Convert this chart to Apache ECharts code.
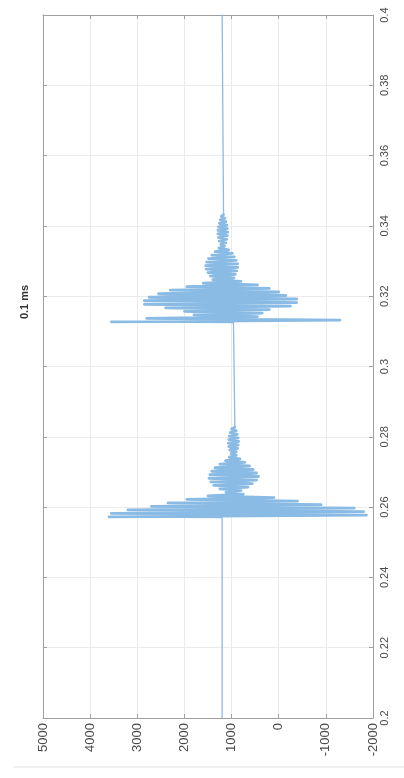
<!DOCTYPE html>
<html>
<head>
<meta charset="utf-8">
<script src="https://cdn.jsdelivr.net/npm/echarts@6/dist/echarts.min.js"></script>
<style>
html,body{margin:0;padding:0;background:#fff;}
#chart{width:404px;height:778px;}
</style>
</head>
<body>
<div id="chart"></div>
<script>
// ---- data ----
const titleText = '0.1 ms';
const timeMin = 0.2, timeMax = 0.4, timeStep = 0.02;
const ampMin = -2000, ampMax = 5000, ampStep = 1000;

// quiet segments (time, amplitude)
const timeBefore = [0.2000, 0.2570];
const ampBefore = [1200, 1200];
const timeBetween = [0.2832, 0.3125];
const ampBetween = [960, 960];
const timeAfter = [0.3437, 0.4000];
const ampAfter = [1200, 1200];

// bursts: sample values every 0.0005 s
const sampleStep = 0.0005;
const burst1Start = 0.2572;
const burst1 = [3600, -1860, 3550, -1800, 3200, -1600, 2700, -900, 2350, -400,
  1950, 100, 1500, 750, 1120, 800, 1250, 650, 1380, 560,
  1440, 470, 1480, 430, 1460, 470, 1420, 540, 1350, 620,
  1250, 720, 1130, 820, 1050, 900, 1010, 900, 1040, 870,
  1060, 860, 1070, 850, 1060, 860, 1050, 880, 1030, 900,
  1000, 930];
const burst2Start = 0.3127;
const burst2 = [3550, -1300, 2800, 450, 1800, 350, 2000, 200, 2400, -250,
  2850, -380, 2850, -380, 2750, -150, 2550, 0, 2300, 200,
  1950, 450, 1600, 800, 1400, 950, 1450, 920, 1500, 890,
  1540, 870, 1550, 870, 1530, 900, 1490, 940, 1420, 980,
  1350, 1060, 1270, 1150, 1230, 1120, 1260, 1100, 1280, 1090,
  1290, 1080, 1290, 1090, 1280, 1100, 1260, 1120, 1240, 1140,
  1220, 1170];

// ---- build series tables ----
const b1 = burst1.map((v, i) => [v, burst1Start + i * sampleStep]);
const b2 = burst2.map((v, i) => [v, burst2Start + i * sampleStep]);
const pts = [];
timeBefore.forEach((t, i) => pts.push([ampBefore[i], t]));
b1.forEach(p => pts.push(p));
timeBetween.forEach((t, i) => pts.push([ampBetween[i], t]));
b2.forEach(p => pts.push(p));
timeAfter.forEach((t, i) => pts.push([ampAfter[i], t]));

const lineColor = '#89bbe4';
const axisColor = '#a0a0a0';
const gridColor = '#ebebeb';
const labelColor = '#4a4a4a';
const font = 'Liberation Sans, Arial, sans-serif';

function boxAxis(extra) {
  return Object.assign({
    axisLine: {show: true, onZero: false, lineStyle: {color: axisColor, width: 1}},
    axisTick: {show: true, inside: true, length: 4, lineStyle: {color: axisColor}}
  }, extra);
}
function sigSeries(data, width) {
  return {
    type: 'line', xAxisIndex: 0, yAxisIndex: 0, data: data,
    showSymbol: false, symbol: 'none', silent: true,
    lineStyle: {color: lineColor, width: width, join: 'round', cap: 'round'},
    itemStyle: {color: lineColor}
  };
}

const chart = echarts.init(document.getElementById('chart'), null, {renderer: 'canvas'});
chart.setOption({
  animation: false,
  backgroundColor: '#fff',
  grid: {left: 43, right: 31, top: 15, bottom: 60, containLabel: false},
  xAxis: [boxAxis({
    type: 'value', min: ampMin, max: ampMax, interval: ampStep, inverse: true,
    position: 'bottom',
    axisLabel: {rotate: 90, margin: 5, fontSize: 13, color: labelColor, fontFamily: font,
      formatter: v => String(Math.round(v))},
    splitLine: {show: true, lineStyle: {color: gridColor, width: 1}}
  }), boxAxis({
    type: 'value', min: ampMin, max: ampMax, interval: ampStep, inverse: true,
    position: 'top',
    axisLabel: {show: false},
    splitLine: {show: false}
  })],
  yAxis: [boxAxis({
    type: 'value', min: timeMin, max: timeMax, interval: timeStep,
    position: 'right',
    axisLabel: {rotate: 90, margin: 6, fontSize: 11, color: labelColor, fontFamily: font,
      formatter: v => String(+(+v).toFixed(2))},
    splitLine: {show: true, lineStyle: {color: gridColor, width: 1}}
  }), boxAxis({
    type: 'value', min: timeMin, max: timeMax, interval: timeStep,
    position: 'left',
    axisLabel: {show: false},
    splitLine: {show: false}
  })],
  series: [sigSeries(pts, 1.3), sigSeries(b1, 2.8), sigSeries(b2, 2.8)],
  graphic: [{
    type: 'text', x: 25, y: 302, rotation: Math.PI / 2,
    style: {text: titleText, fill: '#333', font: 'bold 11px ' + font,
      textAlign: 'center', textVerticalAlign: 'middle'}
  }, {
    type: 'line', shape: {x1: 13, y1: 767, x2: 404, y2: 767},
    style: {stroke: '#e2e2e2', lineWidth: 1}
  }]
});
</script>
</body>
</html>
